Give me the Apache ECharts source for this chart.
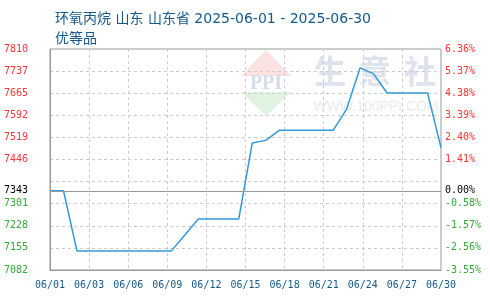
<!DOCTYPE html>
<html>
<head>
<meta charset="utf-8">
<script src="https://cdn.jsdelivr.net/npm/echarts@6/dist/echarts.min.js"></script>
<style>
html,body{margin:0;padding:0;background:#fff;}
#c{width:490px;height:300px;}
</style>
</head>
<body>
<div id="c"></div>
<script>
const dates = ['06/01','06/02','06/03','06/04','06/05','06/06','06/07','06/08','06/09','06/10',
  '06/11','06/12','06/13','06/14','06/15','06/16','06/17','06/18','06/19','06/20',
  '06/21','06/22','06/23','06/24','06/25','06/26','06/27','06/28','06/29','06/30'];
const prices = [7343,7343,7145,7145,7145,7145,7145,7145,7145,7145,
  7197,7250,7250,7250,7250,7500,7509,7542,7542,7542,
  7542,7542,7612,7748,7728,7665,7665,7665,7665,7485];
const basePrice = 7343;
const basePriceLabel = '7343';
const basePctLabel = '0.00%';
const yMin = 7082, yMax = 7810, yStep = 72.8;
const leftTickLabels = ['7082','7155','7228','7301','','7446','7519','7592','7665','7737','7810'];
const rightTickLabels = ['-3.55%','-2.56%','-1.57%','-0.58%','','1.41%','2.40%','3.39%','4.38%','5.37%','6.36%'];
const titleText = '环氧丙烷 山东 山东省 2025-06-01 - 2025-06-30\n优等品';

const RED = '#ff3333', GREEN = '#33aa33';
const mono = '"DejaVu Sans Mono", "Liberation Mono", monospace';
function styled(list, i){
  const t = list[i];
  if (!t) return '';
  return (i > 4 ? '{r|' : '{g|') + t + '}';
}
const rich = {
  r: {color: RED, fontFamily: mono, fontSize: 10},
  g: {color: GREEN, fontFamily: mono, fontSize: 10}
};

const chart = echarts.init(document.getElementById('c'), null, {renderer: 'canvas'});
chart.setOption({
  animation: false,
  backgroundColor: '#ffffff',
  title: {
    text: titleText,
    left: 50, top: 4,
    textStyle: {color: '#15598a', fontSize: 14, fontWeight: 'normal', lineHeight: 20,
      fontFamily: '"DejaVu Sans", "Noto Sans CJK SC", sans-serif'}
  },
  graphic: [
    {type: 'polygon', z: -10, shape: {points: [[266,50],[291,76],[241,76]]}, style: {fill: '#fde2e2'}},
    {type: 'polygon', z: -10, shape: {points: [[241,92],[291,92],[266,116]]}, style: {fill: '#e0f2e0'}},
    {type: 'text', z: -9, x: 266, y: 84, style: {text: 'PPI', fill: '#d5dcea', font: 'bold 20px "Liberation Serif", serif', align: 'center', verticalAlign: 'middle'}},
    {type: 'text', z: -9, x: 330, y: 71, style: {text: '生', fill: '#dde2ec', font: 'bold 32px "Noto Sans CJK SC", sans-serif', align: 'center', verticalAlign: 'middle'}},
    {type: 'text', z: -9, x: 375, y: 71, style: {text: '意', fill: '#dde2ec', font: 'bold 32px "Noto Sans CJK SC", sans-serif', align: 'center', verticalAlign: 'middle'}},
    {type: 'text', z: -9, x: 420, y: 71, style: {text: '社', fill: '#dde2ec', font: 'bold 32px "Noto Sans CJK SC", sans-serif', align: 'center', verticalAlign: 'middle'}},
    {type: 'text', z: -9, x: 376, y: 107, style: {text: 'WWW.100PPI.COM', fill: '#ebebeb', font: '14px "Liberation Sans", sans-serif', align: 'center', verticalAlign: 'middle'}}
  ],
  grid: {left: 50, right: 49, top: 49, bottom: 30, show: true, borderColor: '#999', borderWidth: 1, backgroundColor: 'transparent'},
  xAxis: {
    type: 'value', min: 0, max: dates.length - 1, interval: (dates.length - 1) / 10,
    axisLine: {show: true, lineStyle: {color: '#999'}},
    axisTick: {show: false},
    axisLabel: {
      margin: 10, color: '#15598a', fontFamily: mono, fontSize: 10,
      formatter: v => dates[Math.floor(v + 1e-6)]
    },
    splitLine: {show: true, lineStyle: {color: '#cccccc', type: [3, 3]}}
  },
  yAxis: [
    {
      type: 'value', min: yMin, max: yMax, interval: yStep, position: 'left',
      axisLine: {show: true, lineStyle: {color: '#999'}},
      axisTick: {show: false},
      axisLabel: {margin: 22, formatter: (v, i) => styled(leftTickLabels, i), rich: rich},
      splitLine: {show: true, lineStyle: {color: '#cccccc', type: [3, 3]}}
    },
    {
      type: 'value', min: yMin, max: yMax, interval: yStep, position: 'right',
      axisLine: {show: false},
      axisTick: {show: false},
      axisLabel: {margin: 4, formatter: (v, i) => styled(rightTickLabels, i), rich: rich},
      splitLine: {show: false}
    }
  ],
  series: [{
    type: 'line',
    data: prices.map((p, i) => [i, p]),
    showSymbol: false,
    symbol: 'none',
    lineStyle: {color: '#3399dd', width: 1.5},
    itemStyle: {color: '#3399dd'},
    markLine: {
      silent: true,
      symbol: 'none',
      lineStyle: {color: '#999', type: 'solid', width: 1},
      data: [
        {yAxis: basePrice, label: {show: true, position: 'start', distance: 22, formatter: basePriceLabel, color: '#000', fontFamily: mono, fontSize: 10}},
        {yAxis: basePrice, label: {show: true, position: 'end', distance: 4, formatter: basePctLabel, color: '#000', fontFamily: mono, fontSize: 10}}
      ]
    }
  }]
});
</script>
</body>
</html>
